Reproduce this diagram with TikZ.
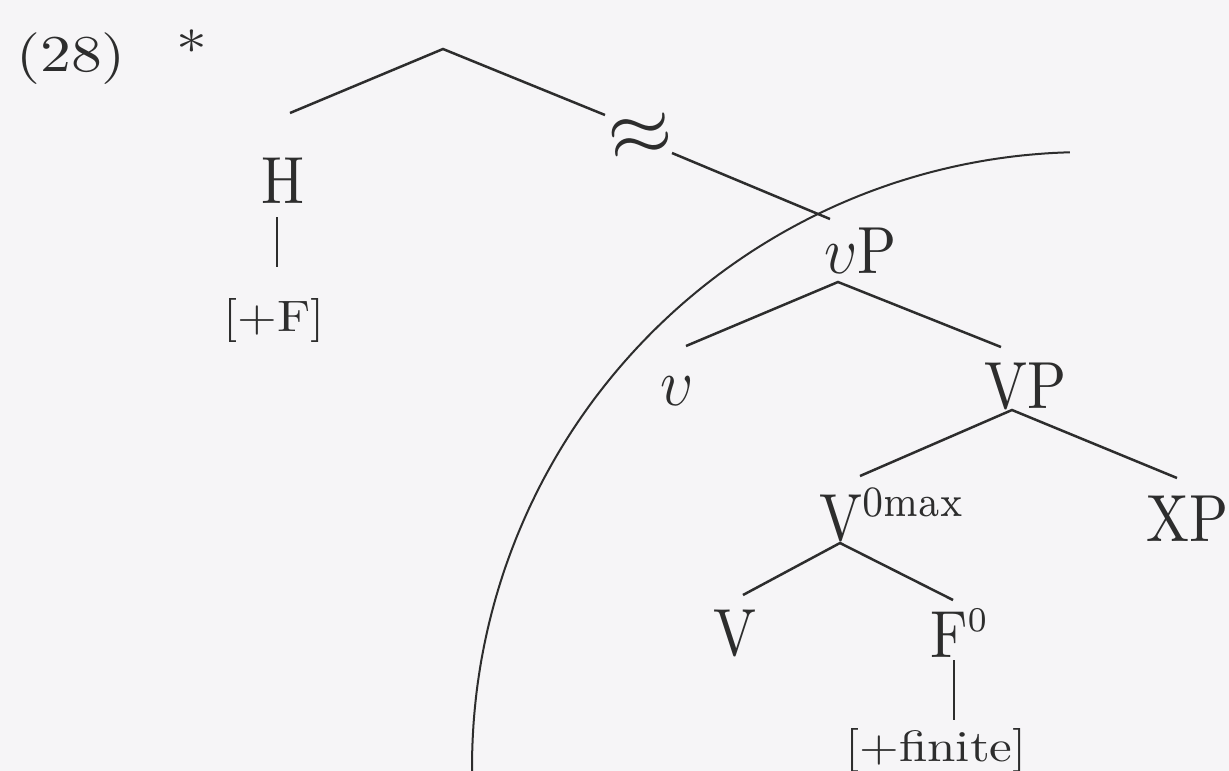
\documentclass[tikz,border=0pt]{standalone}
\usepackage{graphicx}
\definecolor{bg}{RGB}{246,245,247}
\definecolor{ink}{RGB}{45,45,45}
\tikzset{
  tree/.style={draw=ink, line width=0.75pt},
  arcline/.style={draw=ink, line width=0.6pt},
  lab/.style={inner sep=0pt, anchor=base, text=ink},
}
\newcommand\mainlab[1]{\scalebox{1.72}[2]{\fontsize{10}{12}\selectfont #1}}
\newcommand\featlab[1]{\scalebox{1.53}[1.32]{\fontsize{10}{12}\selectfont #1}}
\newcommand\exlab[1]{\scalebox{1.85}[1.55]{\fontsize{10}{12}\selectfont #1}}
\newcommand\supl[1]{\raisebox{3.6pt}{\fontsize{6.5}{7}\selectfont #1}}
\newcommand\supz[1]{\raisebox{3.9pt}{\fontsize{5.2}{6}\selectfont #1}}
\begin{document}
\begin{tikzpicture}[x=0.3pt,y=-0.3pt]
\fill[bg] (0,0) rectangle (1229,771);
\useasboundingbox (0,0) rectangle (1229,771);

% labels
\node[lab] (ex) at (71,71) {\exlab{(28)}};
\node[lab] (star) at (192,68) {\exlab{*}};
\node[lab] (H) at (283,203) {\mainlab{H}};
\node[lab] (HF) at (274,331) {\featlab{[+F]}};
\node[lab] (vP) at (861,273) {\mainlab{$\upsilon$P}};
\node[lab] (v) at (677,405) {\mainlab{$\upsilon$}};
\node[lab] (VP) at (1026,408) {\mainlab{VP}};
\node[lab] (V0) at (891,540) {\mainlab{V\supl{0max}}};
\node[lab] (XP) at (1188,541) {\mainlab{XP}};
\node[lab] (V) at (735,655) {\mainlab{V}};
\node[lab] (F0) at (959,657) {\mainlab{F\supz{0}}};
\node[lab] (fin) at (936,761) {\featlab{[+finite]}};
\node[inner sep=0pt, text=ink, rotate=10] (approx) at (641,137) {\fontsize{27}{30}\selectfont$\approx$};

% connector end points
\coordinate (apex) at (443,49);
\coordinate (lend) at (290,113);
\coordinate (brkA) at (605,115);
\coordinate (brkB) at (672,153);
\coordinate (rend) at (830,219);
\coordinate (Htop) at (277,217);
\coordinate (Hbot) at (277,267);
\coordinate (vPa) at (838,282);
\coordinate (vend) at (686,346);
\coordinate (VPend) at (1001,347);
\coordinate (VPa) at (1012,410);
\coordinate (V0end) at (860,476);
\coordinate (XPend) at (1177,478);
\coordinate (V0a) at (840,543);
\coordinate (Vend) at (743,595);
\coordinate (Fend) at (953,600);
\coordinate (Ftop) at (954,660);
\coordinate (Fbot) at (954,720);

% tree lines
\draw[tree] (lend) -- (apex) -- (brkA);
\draw[tree] (brkB) -- (rend);
\draw[tree] (Htop) -- (Hbot);
\draw[tree] (vend) -- (vPa) -- (VPend);
\draw[tree] (V0end) -- (VPa) -- (XPend);
\draw[tree] (Vend) -- (V0a) -- (Fend);
\draw[tree] (Ftop) -- (Fbot);

% phase boundary arc
\draw[arcline] plot[domain=91.6:180.4, samples=120] ({1087+615*cos(\x)}, {767-615*sin(\x)});
\end{tikzpicture}
\end{document}
